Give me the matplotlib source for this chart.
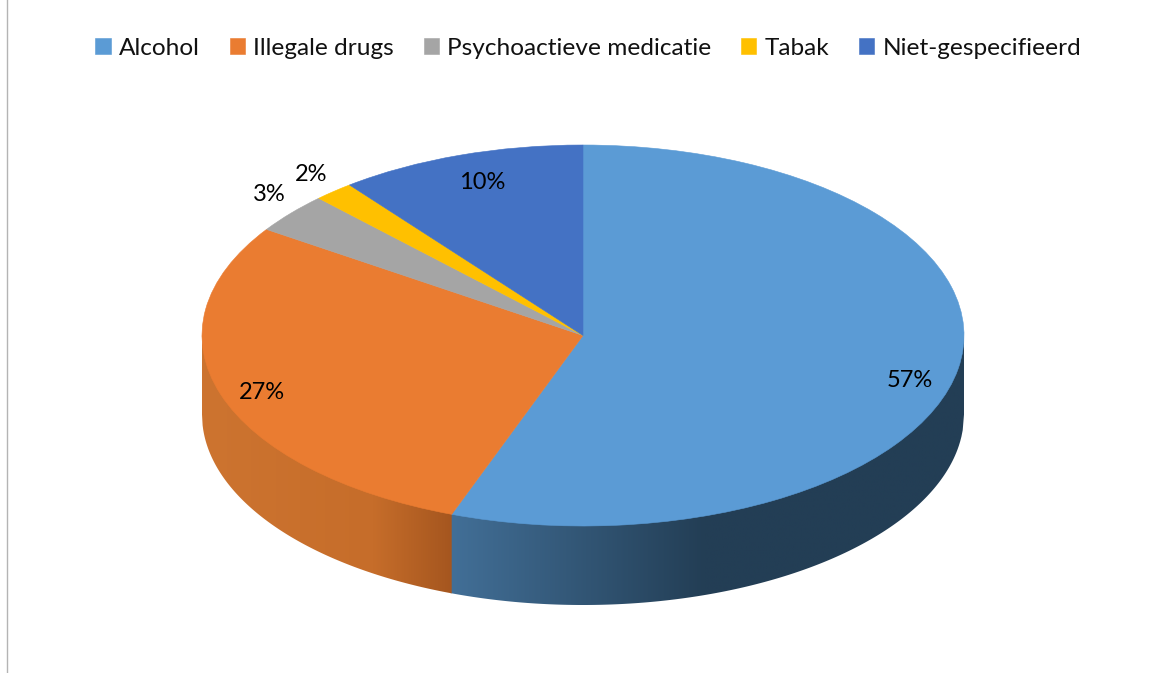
import numpy as np
import matplotlib
matplotlib.use("Agg")
import matplotlib.pyplot as plt
from matplotlib.lines import Line2D
from matplotlib.patches import Polygon
from matplotlib.colors import to_rgb

categories = ["Alcohol", "Illegale drugs", "Psychoactieve medicatie", "Tabak", "Niet-gespecifieerd"]
shares = [55.6, 28.8, 3.4, 1.7, 10.5]  # slice sizes as seen on the tilted pie
pct_labels = ["57%", "27%", "3%", "2%", "10%"]
colors = ["#5b9bd5", "#ea7c31", "#a5a5a5", "#ffc000", "#4472c4"]

W, H = 1152, 673
cx, cy = 583.0, 335.5  # pie centre in pixels
rx, ry = 381.0, 190.5
depth = 79.0 / ry

plt.rcParams["font.family"] = ["Lato", "DejaVu Sans"]

fig = plt.figure(figsize=(W / 100, H / 100), dpi=100)
ax = fig.add_axes([0, 0, 1, 1])

wedges, _ = ax.pie(shares, colors=colors, startangle=90, counterclock=False, radius=1,
                   wedgeprops={"linewidth": 0.4}, labels=None)
for w in wedges:
    w.set_edgecolor(w.get_facecolor())
    w.set_zorder(3)
ax.set_aspect("auto")
xlim = (-cx / rx, (W - cx) / rx)
ylim = ((cy - H) / ry, cy / ry)


def to_data(px, py):
    return (px - cx) / rx, (cy - py) / ry


# side wall: a smooth shade clipped to the rim of each slice
split = np.sin(np.deg2rad(shares[0] * 3.6))  # where alcohol meets drugs on the rim


def wall(x0, x1, stops_x, stops_c, z):
    xs = np.linspace(x0, x1, 400)
    rim = -np.sqrt(np.clip(1 - xs ** 2, 0, 1))
    outline = np.column_stack([np.r_[xs, xs[::-1]], np.r_[rim + 0.02, (rim - depth)[::-1]]])
    clip = Polygon(outline, closed=True, transform=ax.transData)
    grid = np.linspace(x0, x1, 500)
    rgb = np.array([to_rgb(c) for c in stops_c])
    img = np.stack([np.interp(grid, stops_x, rgb[:, k]) for k in range(3)], axis=-1)[np.newaxis, :, :]
    im = ax.imshow(img, extent=(x0, x1, -1 - depth - 0.1, 0.1), aspect="auto", zorder=z,
                   interpolation="bilinear")
    im.set_clip_path(clip)


x_dark = to_data(705, 0)[0]
# the blue wall starts a hair early so no white seam shows under the orange one
wall(split - 0.004, 1.0, [split, x_dark, 1.0], ["#426f97", "#233e55", "#233e55"], 1)
wall(-1.0, split, [-1.0, -0.55, split], ["#cd7430", "#c66d2a", "#a5561f"], 2)
ax.set_xlim(xlim)
ax.set_ylim(ylim)

# data labels
label_px = [910, 262, 269, 311, 482]
label_py = [381, 393, 195, 175, 183]
for lab, px, py in zip(pct_labels, label_px, label_py):
    x, y = to_data(px, py)
    ax.text(x, y, lab, fontsize=17, color="black", ha="center", va="center", zorder=5)

ax.axis("off")

leg = ax.legend(wedges, categories, loc="upper center", bbox_to_anchor=(0.5108, 0.9765), ncol=5,
                frameon=False, fontsize=17.6, handlelength=0.62, handleheight=0.6,
                handletextpad=0.34, columnspacing=1.22, labelcolor="#111111")

# chart frame, only the left edge is inside the picture
fig.add_artist(Line2D([7 / W, 7 / W], [0, 1], color="#b4b4b4", lw=1.0))

fig.savefig("out.png", dpi=100, facecolor="white")
